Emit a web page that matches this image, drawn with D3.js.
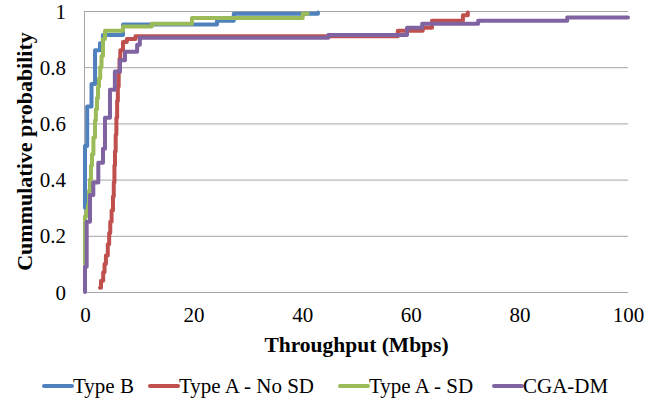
<!DOCTYPE html>
<html>
<head>
<meta charset="utf-8">
<script src="https://cdn.jsdelivr.net/npm/d3@7"></script>
<style>
  html, body { margin: 0; padding: 0; background: #fff; }
  svg { display: block; }
</style>
</head>
<body>
<svg id="chart" width="664" height="412"></svg>
<script>
// Throughput CDF per scheme (Mbps, cumulative probability), step points
const typeBMbps = [0, 0, 0.4, 1.2, 1.85, 2.76, 3.3, 7.0, 24.3, 27.4, 42.9];
const typeBProb = [0.3, 0.52, 0.66, 0.74, 0.86, 0.885, 0.915, 0.952, 0.965, 0.99, 0.995];

const typeANoSdMbps = [2.76, 2.95, 3.35, 3.6, 3.85, 4.2, 4.45, 4.65, 4.9, 5.15, 5.3, 5.42, 5.52, 5.65, 5.78,
  5.92, 6.05, 6.2, 6.35, 6.5, 7.0, 7.7, 9.3, 57.6, 62.2, 63.9, 69.6, 70.5];
const typeANoSdProb = [0.015, 0.04, 0.07, 0.10, 0.13, 0.17, 0.21, 0.25, 0.29, 0.34, 0.39, 0.45, 0.5, 0.56, 0.62,
  0.68, 0.73, 0.78, 0.83, 0.86, 0.89, 0.9, 0.91, 0.93, 0.94, 0.965, 0.985, 0.995];

const typeASdMbps = [0, 0, 0.3, 0.55, 0.75, 0.92, 1.1, 1.29, 1.55, 1.84, 2.0, 2.21, 2.4, 2.58, 2.8, 3.04,
  3.31, 3.68, 7.0, 12.3, 19.7, 40.1, 41.0];
const typeASdProb = [0.1, 0.27, 0.29, 0.31, 0.36, 0.40, 0.45, 0.49, 0.55, 0.61, 0.65, 0.69, 0.73, 0.76, 0.80, 0.84,
  0.90, 0.93, 0.945, 0.955, 0.975, 0.99, 0.99];

const cgaDmMbps = [0, 0, 0.31, 0.92, 1.53, 2.45, 3.31, 3.68, 4.6, 5.5, 6.45, 7.37, 9.6, 10.1, 44.8, 59.3,
  62.1, 72.4, 88.8, 100];
const cgaDmProb = [0, 0.09, 0.25, 0.345, 0.39, 0.46, 0.51, 0.62, 0.72, 0.785, 0.825, 0.855, 0.88, 0.905, 0.915, 0.94,
  0.955, 0.965, 0.977, 0.977];

const seriesNames = ["Type B", "Type A - No SD", "Type A - SD", "CGA-DM"];
const seriesColors = ["#4F81BD", "#C0504D", "#9BBB59", "#8064A2"];
const seriesMbps = [typeBMbps, typeANoSdMbps, typeASdMbps, cgaDmMbps];
const seriesProb = [typeBProb, typeANoSdProb, typeASdProb, cgaDmProb];

const xTicks = [0, 20, 40, 60, 80, 100];
const yTicks = [0, 0.2, 0.4, 0.6, 0.8, 1];

const serif = "Liberation Serif, Times New Roman, serif";
const svg = d3.select("#chart");
const plot = { left: 85, right: 628, top: 11, bottom: 292 };

const x = d3.scaleLinear().domain([0, 100]).range([plot.left, plot.right]);
const y = d3.scaleLinear().domain([0, 1]).range([plot.bottom, plot.top]);

// horizontal gridlines
svg.append("g")
  .selectAll("line")
  .data(yTicks)
  .join("line")
  .attr("x1", plot.left).attr("x2", plot.right)
  .attr("y1", d => y(d) + 0.5).attr("y2", d => y(d) + 0.5)
  .attr("stroke", "#a6a6a6").attr("stroke-width", 1);

// y axis line
svg.append("line")
  .attr("x1", plot.left - 0.5).attr("x2", plot.left - 0.5)
  .attr("y1", plot.top).attr("y2", plot.bottom + 0.5)
  .attr("stroke", "#a6a6a6").attr("stroke-width", 1);

// y axis labels
const yAxis = svg.append("g")
  .attr("transform", `translate(${plot.left - 19},0)`)
  .call(d3.axisLeft(y).tickValues(yTicks).tickFormat(d3.format("~g")).tickSize(0).tickPadding(0))
  .attr("font-family", serif).attr("font-size", 21);
yAxis.select(".domain").remove();
yAxis.selectAll("text").attr("fill", "#000").attr("dy", "0.34em");

// x axis labels
const xAxis = svg.append("g")
  .attr("transform", `translate(0,${plot.bottom + 15})`)
  .call(d3.axisBottom(x).tickValues(xTicks).tickFormat(d3.format("d")).tickSize(0).tickPadding(0))
  .attr("font-family", serif).attr("font-size", 21);
xAxis.select(".domain").remove();
xAxis.selectAll("text").attr("fill", "#000").attr("dy", "0.71em");

// series
const line = d3.line()
  .x(d => x(d[0]))
  .y(d => y(d[1]))
  .curve(d3.curveStepAfter);

seriesNames.forEach((name, i) => {
  const pts = seriesMbps[i].map((v, j) => [v, seriesProb[i][j]]);
  svg.append("path")
    .datum(pts)
    .attr("fill", "none")
    .attr("stroke", seriesColors[i])
    .attr("stroke-width", 4)
    .attr("stroke-linejoin", "round")
    .attr("stroke-linecap", "round")
    .attr("d", line);
});

// axis titles
svg.append("text")
  .attr("x", (plot.left + plot.right) / 2)
  .attr("y", 352)
  .attr("text-anchor", "middle")
  .attr("font-family", serif)
  .attr("font-size", 21.5).attr("font-weight", "bold")
  .text("Throughput (Mbps)");

svg.append("text")
  .attr("transform", `translate(32,${(plot.top + plot.bottom) / 2}) rotate(-90)`)
  .attr("text-anchor", "middle")
  .attr("font-family", serif)
  .attr("font-size", 22).attr("font-weight", "bold")
  .text("Cummulative probability");

// legend
const legendX = [44, 150, 340, 494];
const legend = svg.append("g").attr("transform", "translate(0,386)");
seriesNames.forEach((name, i) => {
  const g = legend.append("g").attr("transform", `translate(${legendX[i]},0)`);
  g.append("line")
    .attr("x1", 0).attr("x2", 28)
    .attr("y1", 0).attr("y2", 0)
    .attr("stroke", seriesColors[i]).attr("stroke-width", 4)
    .attr("stroke-linecap", "round");
  g.append("text")
    .attr("x", 29).attr("y", 0).attr("dy", "0.34em")
    .attr("font-family", serif)
    .attr("font-size", 21)
    .text(name);
});
</script>
</body>
</html>
